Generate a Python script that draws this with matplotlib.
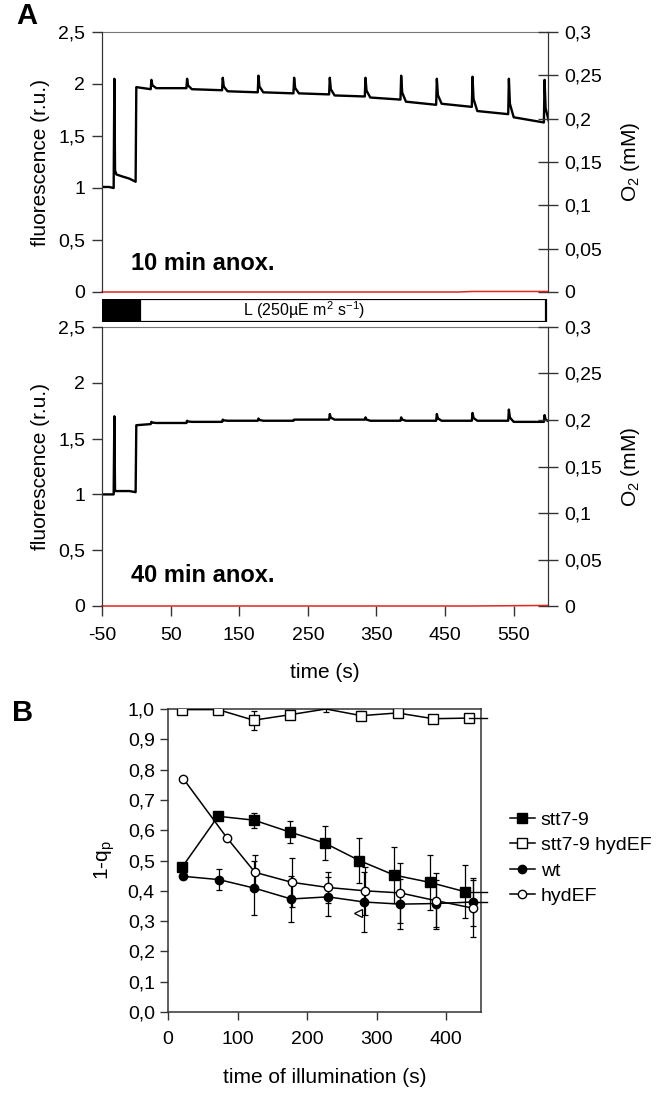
import matplotlib
matplotlib.use('Agg')
import matplotlib.pyplot as plt
from matplotlib.ticker import FuncFormatter, MultipleLocator

plt.rcParams['font.family'] = ['Liberation Sans', 'DejaVu Sans']
plt.rcParams['mathtext.fontset'] = 'custom'
plt.rcParams['mathtext.rm'] = 'Liberation Sans'
plt.rcParams['mathtext.it'] = 'Liberation Sans:italic'
plt.rcParams['mathtext.default'] = 'regular'
plt.rcParams['axes.unicode_minus'] = False

# --- panel A: fluorescence traces ---
dark_t = [-50, -40, -33, -32, -31, -29, -20, -10, -1]
dark10 = [1.01, 1.01, 1.00, 2.05, 1.17, 1.13, 1.11, 1.09, 1.06]
dark40 = [1.00, 1.00, 1.00, 1.70, 1.03, 1.03, 1.03, 1.03, 1.02]
light10_start = 1.97
light40_start = 1.62

flash_t = [22, 74, 126, 178, 230, 282, 334, 386, 438, 490, 543, 595]
pre10 = [1.95, 1.96, 1.94, 1.92, 1.91, 1.90, 1.88, 1.85, 1.80, 1.78, 1.71, 1.63]
peak10 = [2.04, 2.05, 2.06, 2.08, 2.06, 2.06, 2.06, 2.08, 2.05, 2.07, 2.05, 2.04]
post10 = [1.96, 1.95, 1.93, 1.92, 1.91, 1.89, 1.87, 1.83, 1.81, 1.74, 1.68, 1.62]
pre40 = [1.63, 1.64, 1.65, 1.66, 1.66, 1.67, 1.67, 1.66, 1.66, 1.66, 1.66, 1.65]
peak40 = [1.65, 1.66, 1.67, 1.68, 1.67, 1.72, 1.69, 1.69, 1.72, 1.73, 1.76, 1.71]
post40 = [1.64, 1.65, 1.66, 1.66, 1.67, 1.67, 1.66, 1.66, 1.66, 1.66, 1.65, 1.65]

o2_t = [-50, 470, 490, 600]
o2_10 = [0.0, 0.0, 0.0006, 0.0006]
o2_40 = [0.0, 0.0, 0.0, 0.0006]

light_start = [-50, 6]
light_end = [6, 597]
light_color = ['black', 'white']
light_label = 'L (250µE m$^{2}$ s$^{-1}$)'

# --- panel B: 1-qP vs time of illumination ---
stt7_x = [20, 72, 124, 175, 225, 275, 325, 376, 427]
stt7_y = [0.477, 0.646, 0.633, 0.594, 0.558, 0.500, 0.452, 0.428, 0.397]
stt7_err = [0.008, 0.008, 0.025, 0.035, 0.057, 0.075, 0.092, 0.09, 0.087]

stt7hyd_x = [20, 72, 123, 175, 227, 278, 330, 381, 433]
stt7hyd_y = [0.998, 0.998, 0.963, 0.981, 1.0, 0.978, 0.987, 0.968, 0.970]
stt7hyd_err = [0.003, 0.003, 0.031, 0.008, 0.011, 0.014, 0.006, 0.006, 0.006]

wt_x = [21, 73, 124, 177, 230, 282, 334, 385, 438]
wt_y = [0.448, 0.437, 0.409, 0.373, 0.380, 0.363, 0.356, 0.358, 0.363]
wt_err = [0.008, 0.034, 0.088, 0.077, 0.064, 0.1, 0.083, 0.077, 0.08]

hyd_x = [22, 85, 125, 178, 230, 283, 334, 386, 438]
hyd_y = [0.770, 0.574, 0.461, 0.428, 0.411, 0.400, 0.393, 0.367, 0.343]
hyd_err = [0.005, 0.005, 0.058, 0.08, 0.05, 0.08, 0.1, 0.092, 0.094]

arrow_mark = (273, 0.327)


def build_trace(dark_v, light_v0, pre, peak, post):
    t = list(dark_t) + [0.0]
    v = list(dark_v) + [light_v0]
    for ft, a, p, b in zip(flash_t, pre, peak, post):
        t += [ft - 1.0, ft, ft + 1.5, ft + 7.0]
        v += [a, p, b + 0.35 * (p - b), b]
    return t, v


def comma(fmt):
    return FuncFormatter(lambda v, pos: fmt.format(v).replace('.', ','))


def gfmt(v, pos):
    s = ('%.2f' % v).rstrip('0').rstrip('.')
    return s.replace('.', ',')


W, H = 664, 1102
fig = plt.figure(figsize=(W / 100, H / 100), dpi=100)

TICK = 14
LAB = 15
spine_c = '#333333'


def fr(x0, y0, x1, y1):
    return [x0 / W, 1 - y1 / H, (x1 - x0) / W, (y1 - y0) / H]


def trace_panel(rect, dark_v, v0, pre, peak, post, o2, label, show_x):
    ax = fig.add_axes(rect)
    t, v = build_trace(dark_v, v0, pre, peak, post)
    ax.plot(t, v, color='black', lw=1.7, zorder=3)
    ax.set_xlim(-50, 600)
    ax.set_ylim(0, 2.5)
    ax.yaxis.set_major_locator(MultipleLocator(0.5))
    ax.yaxis.set_major_formatter(FuncFormatter(gfmt))
    ax.set_ylabel('fluorescence (r.u.)', fontsize=LAB, labelpad=6)
    ax.tick_params(axis='y', direction='out', length=7, width=1, labelsize=TICK,
                   color=spine_c, pad=5)
    ax.set_xticks(range(-50, 600, 100))
    if show_x:
        ax.tick_params(axis='x', direction='out', length=7, width=1, labelsize=TICK,
                       color=spine_c, pad=8)
        ax.set_xlabel('time (s)', fontsize=LAB, labelpad=14)
    else:
        ax.tick_params(axis='x', length=0, labelbottom=False)
    for s in ['left', 'right']:
        ax.spines[s].set_color(spine_c)
    ax.spines['top'].set_color('#777777')
    ax.spines['bottom'].set_visible(False)
    ax.text(0.065, 0.11, label, transform=ax.transAxes, fontsize=17,
            fontweight='bold', va='center', ha='left')

    ax2 = ax.twinx()
    ax2.plot(o2_t, o2, color='#e0261e', lw=1.1, clip_on=False)
    ax2.set_ylim(0, 0.3)
    ax2.yaxis.set_major_locator(MultipleLocator(0.05))
    ax2.yaxis.set_major_formatter(FuncFormatter(gfmt))
    ax2.tick_params(axis='y', direction='inout', length=14, width=1, labelsize=TICK,
                    color=spine_c, pad=5)
    ax2.set_ylabel('O$_{2}$ (mM)', fontsize=LAB, labelpad=12)
    for s in ['left', 'right']:
        ax2.spines[s].set_color(spine_c)
    ax2.spines['top'].set_visible(False)
    ax2.spines['bottom'].set_visible(False)
    return ax


axA1 = trace_panel(fr(102, 32, 548, 292), dark10, light10_start, pre10, peak10,
                   post10, o2_10, '10 min anox.', False)
axA2 = trace_panel(fr(102, 327, 548, 606), dark40, light40_start, pre40, peak40,
                   post40, o2_40, '40 min anox.', True)

# light bar
axL = fig.add_axes(fr(102, 299, 548, 322))
axL.barh([0] * len(light_start), [e - s for s, e in zip(light_start, light_end)],
         left=light_start, color=light_color, edgecolor='black', linewidth=1.6,
         height=1.0)
axL.set_xlim(-50, 600)
axL.set_ylim(-0.5, 0.5)
axL.axis('off')
axL.text(245, 0, light_label, ha='center', va='center', fontsize=11.5)

fig.text(16 / W, 1 - 16 / H, 'A', fontsize=21, fontweight='bold', va='center', ha='left')
fig.text(12 / W, 1 - 713 / H, 'B', fontsize=21, fontweight='bold', va='center', ha='left')

# panel B
axB = fig.add_axes(fr(168, 709, 481, 1012))
series = [
    ('stt7-9', stt7_x, stt7_y, stt7_err, 's', 'black', 7),
    ('stt7-9 hydEF', stt7hyd_x, stt7hyd_y, stt7hyd_err, 's', 'white', 7),
    ('wt', wt_x, wt_y, wt_err, 'o', 'black', 6),
    ('hydEF', hyd_x, hyd_y, hyd_err, 'o', 'white', 6),
]
for name, xs, ys, es, mk, fc, ms in series:
    axB.errorbar(xs, ys, yerr=es, fmt='none', ecolor='black', elinewidth=0.9,
                 capsize=2.2, capthick=0.9, zorder=2)
    mev = [i for i in range(len(xs)) if not (fc == 'white' and mk == 's' and ys[i] >= 1.0)]
    axB.plot(xs, ys, color='black', lw=1.1, marker=mk, ms=ms, mfc=fc, mec='black',
             mew=1.0, markevery=mev, label=name, zorder=3)
    if name != 'hydEF':
        axB.plot([xs[-1], 458], [ys[-1], ys[-1]], color='black', lw=1.0,
                 clip_on=False, zorder=3)
axB.plot([arrow_mark[0]], [arrow_mark[1]], marker='<', ms=6, mfc='white', mec='black',
         mew=0.9, ls='none', zorder=3)

axB.set_xlim(0, 450)
axB.set_ylim(0, 1.0)
axB.xaxis.set_major_locator(MultipleLocator(100))
axB.yaxis.set_major_locator(MultipleLocator(0.1))
axB.yaxis.set_major_formatter(comma('{:.1f}'))
axB.tick_params(direction='out', length=6, width=1, labelsize=TICK, color=spine_c)
axB.tick_params(axis='x', pad=8)
axB.set_xlabel('time of illumination (s)', fontsize=LAB, labelpad=14)
axB.set_ylabel('1-q$_{p}$', fontsize=LAB, labelpad=8)
for s in axB.spines.values():
    s.set_color(spine_c)
    s.set_linewidth(1.1)

axB.legend(loc='center left', bbox_to_anchor=(500 / W, 1 - 858 / H),
           bbox_transform=fig.transFigure, frameon=False, fontsize=14,
           handlelength=1.3, handletextpad=0.3, labelspacing=0.4, borderpad=0)

fig.savefig('out.png', dpi=100)
